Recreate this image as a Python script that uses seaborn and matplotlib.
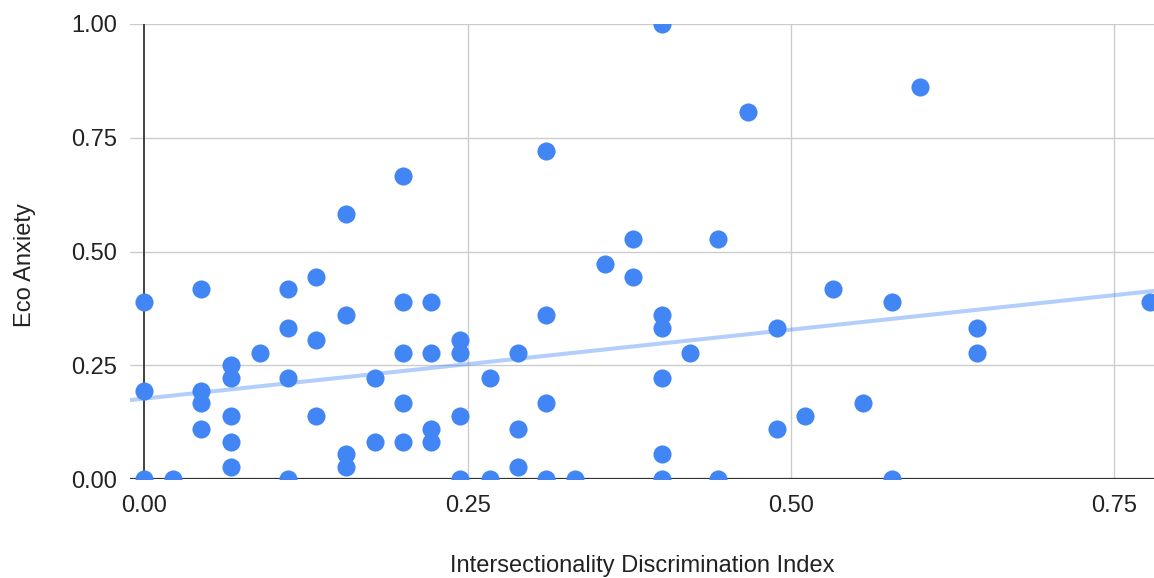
import matplotlib
matplotlib.use("Agg")
import matplotlib.pyplot as plt
import seaborn as sns
import pandas as pd

# Intersectionality Discrimination Index (x) and Eco Anxiety (y)
idx = [0.0, 0.0, 0.0,
       0.022,
       0.044, 0.044, 0.044, 0.044,
       0.067, 0.067, 0.067, 0.067, 0.067,
       0.089,
       0.111, 0.111, 0.111, 0.111,
       0.133, 0.133, 0.133,
       0.156, 0.156, 0.156, 0.156,
       0.178, 0.178,
       0.2, 0.2, 0.2, 0.2, 0.2,
       0.222, 0.222, 0.222, 0.222,
       0.244, 0.244, 0.244, 0.244,
       0.267, 0.267,
       0.289, 0.289, 0.289,
       0.311, 0.311, 0.311, 0.311,
       0.333,
       0.356,
       0.378, 0.378,
       0.4, 0.4, 0.4, 0.4, 0.4, 0.4,
       0.422,
       0.444, 0.444,
       0.467,
       0.489, 0.489,
       0.511,
       0.533,
       0.556,
       0.578, 0.578,
       0.6,
       0.644, 0.644,
       0.778]
anxiety = [0.389, 0.194, 0.0,
           0.0,
           0.417, 0.194, 0.167, 0.111,
           0.25, 0.222, 0.139, 0.083, 0.028,
           0.278,
           0.417, 0.333, 0.222, 0.0,
           0.444, 0.306, 0.139,
           0.583, 0.361, 0.056, 0.028,
           0.222, 0.083,
           0.667, 0.389, 0.278, 0.167, 0.083,
           0.389, 0.278, 0.111, 0.083,
           0.306, 0.278, 0.139, 0.0,
           0.222, 0.0,
           0.278, 0.111, 0.028,
           0.722, 0.361, 0.167, 0.0,
           0.0,
           0.472,
           0.528, 0.444,
           1.0, 0.361, 0.333, 0.222, 0.056, 0.0,
           0.278,
           0.528, 0.0,
           0.806,
           0.333, 0.111,
           0.139,
           0.417,
           0.167,
           0.389, 0.0,
           0.861,
           0.333, 0.278,
           0.389]

x_ticks = [0.0, 0.25, 0.5, 0.75]
y_ticks = [0.0, 0.25, 0.5, 0.75, 1.0]
x_label = "Intersectionality Discrimination Index"
y_label = "Eco Anxiety"

df = pd.DataFrame({"idx": idx, "anxiety": anxiety})

sns.set_style("white")
plt.rcParams["font.family"] = ["Liberation Sans", "DejaVu Sans"]

fig = plt.figure(figsize=(11.54, 5.78), dpi=100)
ax = fig.add_axes([130 / 1154, 1 - 479.3 / 578, 1 - 130 / 1154, (479.3 - 24) / 578])

ax.set_xlim(-0.0112, 0.781)
ax.set_ylim(0, 1)

# grid
for t in x_ticks[1:]:
    ax.axvline(t, color="#cccccc", lw=1.0, zorder=0)
for t in y_ticks[1:]:
    ax.axhline(t, color="#cccccc", lw=1.0, zorder=0)
ax.axvline(0, color="#333333", lw=1.3, zorder=1)
ax.axhline(0, color="#333333", lw=1.6, zorder=1)

sns.regplot(data=df, x="idx", y="anxiety", ax=ax, scatter=False, ci=None,
            truncate=False,
            line_kws=dict(color="#4285F4", alpha=0.4, lw=2.9, zorder=2))
sns.scatterplot(data=df, x="idx", y="anxiety", ax=ax, color="#4285F4",
                s=170, linewidth=0, zorder=3, clip_on=True)

for sp in ax.spines.values():
    sp.set_visible(False)

ax.set_xticks(x_ticks)
ax.set_xticklabels([f"{t:.2f}" for t in x_ticks])
ax.set_yticks(y_ticks)
ax.set_yticklabels([f"{t:.2f}" for t in y_ticks])
ax.tick_params(axis="both", length=0, labelsize=17, colors="#222222")
ax.tick_params(axis="x", pad=11)
ax.tick_params(axis="y", pad=9)
ax.set_xlabel(x_label, fontsize=17, color="#222222", labelpad=28)
ax.set_ylabel(y_label, fontsize=17, color="#222222", labelpad=26)
ax.yaxis.set_label_coords(-0.092, 0.47)

fig.savefig("out.png", dpi=100)
